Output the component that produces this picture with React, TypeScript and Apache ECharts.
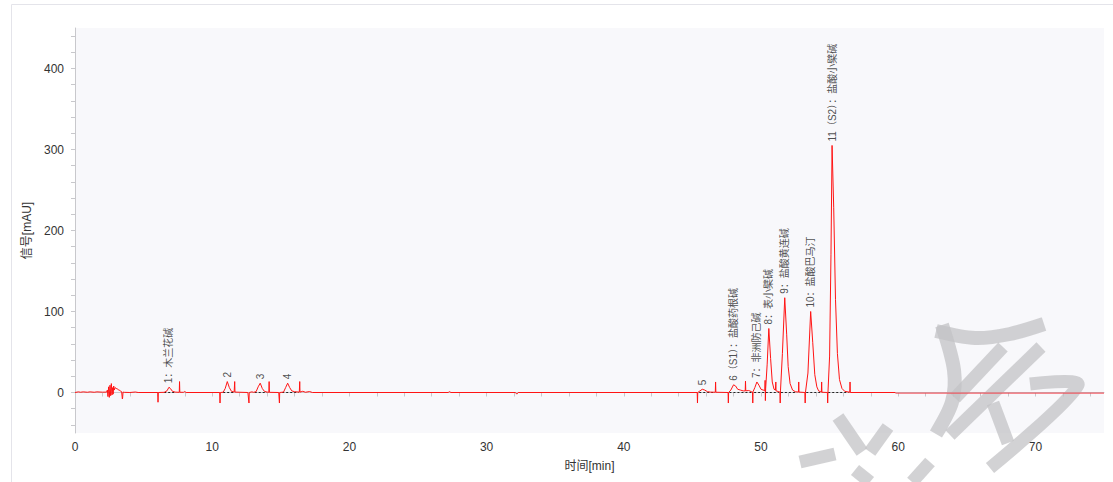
import React, { useEffect, useRef } from "react";
import * as echarts from "echarts";

// chromatogram trace: [time (min), signal (mAU)]
const trace: [number, number][] = [
  [0, 0], [0.25, 0.8], [0.4, 0.3], [0.6, 0.8], [0.9, 0.3], [1.1, 0.8], [1.4, 0.3], [1.6, 0.8], [2.0, 0.4], [2.3, 0.5],
  [2.36, 3], [2.4, -5], [2.45, 7], [2.5, -6], [2.55, 9], [2.6, -4], [2.65, 11], [2.7, -3], [2.74, 6], [2.78, -2],
  [2.82, 8], [2.86, 3], [2.92, 6], [3.0, 5], [3.08, 4.5], [3.15, 3.5], [3.22, 3], [3.3, 2], [3.4, 1], [3.45, -8], [3.47, -7],
  [3.5, 0.5], [3.6, 0.2], [4.0, 0], [4.4, 0.6], [4.6, 0], [6.04, 0], [6.05, -12], [6.07, 0], [6.5, 0.2], [6.7, 2],
  [6.85, 6.5], [6.95, 5], [7.1, 1.5], [7.3, 0.5], [7.6, 0.2], [7.62, 13.5], [7.64, 0.3], [7.9, 0.2], [8.0, 1.2], [8.1, 0],
  [10.55, 0], [10.57, -13], [10.59, 0], [10.8, 0.3], [10.95, 5], [11.1, 13.5], [11.25, 6], [11.4, 1.5], [11.6, 0.5],
  [11.64, 13.5], [11.66, 0.5], [12.6, 0], [12.68, -13], [12.7, 0], [12.9, 0.8], [13.0, 0.2], [13.2, 1], [13.35, 7],
  [13.5, 11.5], [13.65, 5], [13.8, 1.5], [14.0, 0.5], [14.13, 0.3], [14.15, 13.5], [14.17, 0.2], [14.85, 0], [14.9, -13],
  [14.92, 0], [15.2, 0.5], [15.35, 6], [15.5, 11.5], [15.65, 6], [15.8, 2], [16.0, 1], [16.35, 0.5], [16.38, 13.5],
  [16.4, 0.5], [16.6, 1.5], [16.8, 0.3], [17.1, 1.2], [17.3, 0],
  [27.2, 0], [27.3, 1], [27.4, 0], [32.1, 0], [32.2, -2], [32.3, 0],
  [45.35, 0], [45.37, -13], [45.39, 0], [45.55, 2], [45.72, 4], [45.9, 3], [46.1, 1], [46.3, 0.5], [46.67, 0.3],
  [46.69, 13], [46.71, 0.3], [47.6, 0], [47.62, -13], [47.64, 0], [47.8, 3], [48.0, 9.5], [48.15, 8], [48.3, 4],
  [48.5, 3], [48.7, 2], [48.85, 2], [48.87, 14], [48.89, 2], [49.1, 2.5], [49.3, 1], [49.38, 0.5], [49.4, -13],
  [49.42, 1], [49.55, 6], [49.7, 13], [49.85, 9], [50.0, 4], [50.15, 3], [50.28, 2.5], [50.3, 15], [50.32, -10],
  [50.34, 5], [50.45, 35], [50.57, 79], [50.7, 42], [50.82, 13], [50.95, 4], [51.05, 3], [51.08, 13], [51.1, 2],
  [51.3, 1], [51.38, 0.5], [51.4, -13], [51.42, 2], [51.56, 48], [51.73, 117], [51.87, 72], [51.98, 32], [52.12, 11],
  [52.3, 3], [52.5, 1], [52.73, 0.5], [52.75, 13], [52.77, 0.5], [53.2, 0], [53.22, -13], [53.24, 0], [53.42, 24],
  [53.62, 100], [53.77, 62], [53.92, 22], [54.07, 7], [54.2, 2], [54.4, 0.5], [54.42, 13], [54.44, 0.3], [54.84, 0],
  [54.86, -13], [54.88, 0], [55.0, 45], [55.1, 170], [55.18, 305], [55.3, 228], [55.43, 115], [55.57, 48], [55.72, 16],
  [55.9, 5], [56.1, 1.5], [56.47, 0.3], [56.49, 13], [56.51, 0], [59.8, 0],
];

// later part of the run (drawn lighter)
const traceTail: [number, number][] = [[59.8, -0.7], [75, -0.7]];

// integration baselines (start, end) in minutes
const baselines: [number, number][] = [
  [6.5, 7.3], [10.8, 11.6], [13.1, 14.0], [15.1, 16.3], [45.5, 46.5], [47.7, 49.3],
  [49.5, 50.3], [50.35, 51.3], [51.45, 52.6], [53.3, 54.3], [54.9, 56.4],
];

// peak annotations
const peakTimes = [6.85, 11.1, 13.5, 15.5, 45.72, 48.0, 49.7, 50.57, 51.73, 53.62, 55.18];
const peakHeights = [6.5, 13.5, 11.5, 11.5, 4, 9.5, 13, 79, 117, 100, 305];
const peakLabels = [
  "1：木兰花碱", "2", "3", "4", "5", "6（S1）：盐酸药根碱", "7：非洲防己碱",
  "8：表小檗碱", "9：盐酸黄连碱", "10：盐酸巴马汀", "11（S2）：盐酸小檗碱",
];

// axis ticks
const xLabelValues = [0, 10, 20, 30, 40, 50, 60, 70];
const xTickValues = [0, 2, 4, 6, 8, 10, 12, 14, 16, 18, 20, 22, 24, 26, 28, 30, 32, 34, 36, 38, 40, 42, 44, 46, 48, 50, 52, 54, 56, 58, 60, 62, 64, 66, 68, 70, 72, 74];
const yLabelValues = [0, 100, 200, 300, 400];
const yTickValues = [-40, -20, 0, 20, 40, 60, 80, 100, 120, 140, 160, 180, 200, 220, 240, 260, 280, 300, 320, 340, 360, 380, 400, 420, 440];

const FONT = "'Liberation Sans', Arial, 'Noto Sans CJK SC', sans-serif";

export default function App() {
  const ref = useRef<HTMLDivElement>(null);
  useEffect(() => {
    document.body.style.margin = "0";
    if (!ref.current) return;
    const chart = echarts.init(ref.current, undefined, { renderer: "svg" });

    const baseData: any[] = [];
    baselines.forEach(([a, b]) => {
      baseData.push([a, 0], [b, 0], [b, "-"]);
    });

    const wmColor = "rgba(195,195,198,0.75)";
    const wm = (points: number[][], w = 14) => ({
      type: "polyline",
      silent: true,
      z: 1,
      shape: { points, smooth: 0.3 },
      style: { stroke: wmColor, lineWidth: w, fill: null, lineCap: "butt", lineJoin: "miter" },
    });

    chart.setOption({
      animation: false,
      textStyle: { fontFamily: FONT },
      grid: {
        left: 75,
        right: 9,
        top: 28,
        bottom: 49,
        show: true,
        backgroundColor: "#f8f8fb",
        borderWidth: 0,
      },
      xAxis: {
        type: "value",
        min: 0,
        max: 75,
        name: "时间[min]",
        nameLocation: "middle",
        nameGap: 27,
        nameTextStyle: { fontSize: 12, color: "#333", fontFamily: FONT },
        axisLine: { show: true, lineStyle: { color: "#c8c8cc" } },
        axisTick: { show: true, length: 4, customValues: xTickValues, lineStyle: { color: "#c8c8cc" } },
        axisLabel: { customValues: xLabelValues, fontSize: 12, color: "#333", margin: 8, fontFamily: FONT },
        splitLine: { show: false },
      },
      yAxis: {
        type: "value",
        min: -50,
        max: 450,
        name: "信号[mAU]",
        nameLocation: "middle",
        nameGap: 41,
        nameRotate: 90,
        nameTextStyle: { fontSize: 12, color: "#333", fontFamily: FONT },
        axisLine: { show: true, lineStyle: { color: "#c8c8cc" } },
        axisTick: { show: true, length: 4, customValues: yTickValues, lineStyle: { color: "#c8c8cc" } },
        axisLabel: { customValues: yLabelValues, fontSize: 12, color: "#333", margin: 11, fontFamily: FONT },
        splitLine: { show: false },
      },
      series: [
        {
          type: "line",
          data: baseData,
          showSymbol: false,
          connectNulls: false,
          lineStyle: { color: "#222", width: 1, type: [2, 2] },
          z: 3,
          silent: true,
        },
        {
          type: "line",
          data: trace,
          showSymbol: false,
          lineStyle: { color: "#ff1414", width: 1 },
          z: 4,
          silent: true,
        },
        {
          type: "line",
          data: traceTail,
          showSymbol: false,
          lineStyle: { color: "rgba(240,70,80,0.85)", width: 1.3 },
          z: 4,
          silent: true,
        },
        {
          type: "scatter",
          data: peakTimes.map((t, i) => [t, peakHeights[i]]),
          symbolSize: 0,
          z: 5,
          silent: true,
          label: {
            show: true,
            position: "top",
            distance: 4,
            rotate: 90,
            align: "left",
            verticalAlign: "middle",
            fontSize: 10,
            color: "#222",
            fontFamily: FONT,
            formatter: (p: any) => peakLabels[p.dataIndex],
          },
        },
      ],
      graphic: [
        {
          type: "rect",
          silent: true,
          z: -1,
          shape: { x: 11.5, y: 4.5, width: 1200, height: 600 },
          style: { fill: null, stroke: "#e4e4ea", lineWidth: 1 },
        },
        wm([[936, 331], [975, 338], [1010, 334], [1044, 324]]),
        wm([[942, 325], [954, 370], [952, 402], [936, 434]]),
        wm([[1003, 347], [955, 398]], 13),
        wm([[1041, 347], [950, 435]], 13),
        wm([[1030, 384], [1078, 385], [990, 468]], 13),
        wm([[993, 403], [1008, 443]], 13),
        wm([[838, 417], [862, 452]], 13),
        wm([[888, 427], [870, 452]], 13),
        wm([[800, 462], [835, 454]], 13),
        wm([[930, 462], [912, 482]], 13),
        wm([[855, 470], [870, 482]], 13),
      ],
    });
    return () => chart.dispose();
  }, []);
  return <div ref={ref} style={{ width: 1113, height: 482 }} />;
}
